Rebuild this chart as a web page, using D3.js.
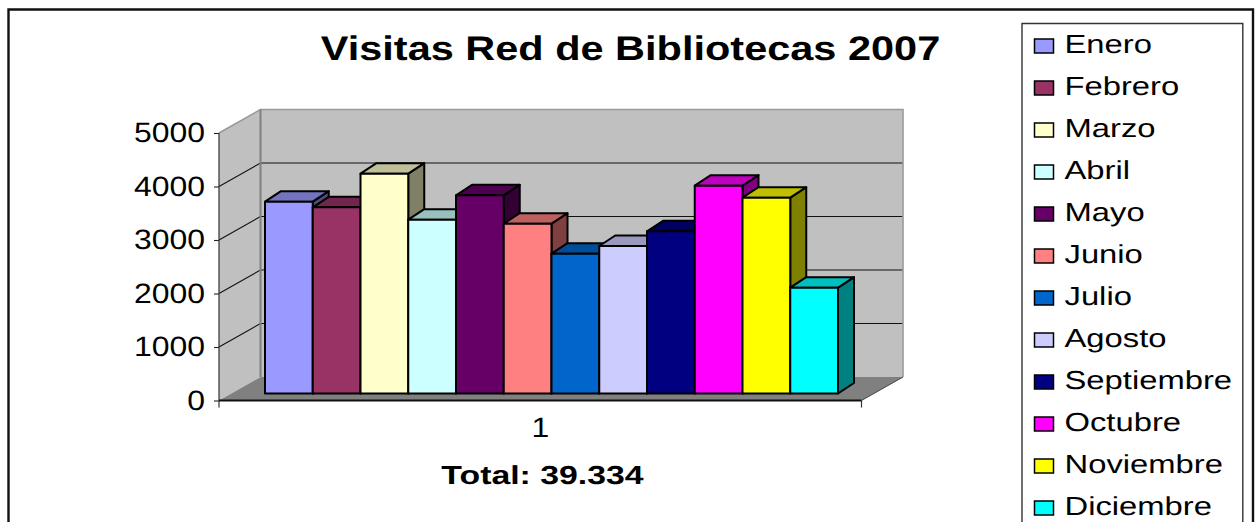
<!DOCTYPE html>
<html><head><meta charset="utf-8">
<script src="https://cdn.jsdelivr.net/npm/d3@7"></script>
<style>html,body{margin:0;padding:0;background:#fff;overflow:hidden}svg{display:block}text{font-family:"Liberation Sans",Arial,sans-serif;fill:#000;text-rendering:geometricPrecision}</style>
</head><body><svg id="c" width="1259" height="522"></svg>
<script>
const months = ["Enero","Febrero","Marzo","Abril","Mayo","Junio","Julio","Agosto","Septiembre","Octubre","Noviembre","Diciembre"];
const visits = [3585,3480,4109,3249,3704,3174,2614,2757,3031,3885,3660,1978];
const colors = ["#9999ff","#993366","#ffffcc","#ccffff","#660066","#ff8080","#0066cc","#ccccff","#000080","#ff00ff","#ffff00","#00ffff"];
const yTicks = [0,1000,2000,3000,4000,5000];
const categoryLabels = ["1"];
const titleText = "Visitas Red de Bibliotecas 2007";
const totalText = "Total: 39.334";

const svg = d3.select("#c");
const wallD = {x:41.5, y:-23.5};
const barD = {x:16, y:-10.5};
const yFront = d3.scaleLinear().domain([0,5000]).range([400.5,133]);
const yBar = d3.scaleLinear().domain([0,5000]).range([393.5,126]);
const xFloor = d3.scaleBand().domain(categoryLabels).range([219,861.5]);
const xBar = d3.scaleBand().domain(months).range([265,838]);
const pts = a => a.map(p=>p.join(",")).join(" ");
const shade = (c,k)=>{const r=d3.rgb(c);return d3.rgb(r.r*k,r.g*k,r.b*k).formatHex();};
const stretch = (sel,k)=>sel.each(function(){
  const w=this.getComputedTextLength();
  d3.select(this).attr("textLength",w*k).attr("lengthAdjust","spacingAndGlyphs");
});

// Frame
const [fx0,fx1]=[8.5,1253];
svg.append("path").attr("d",`M${fx0},530V9.5H${fx1}V530`).attr("fill","none").attr("stroke","#111").attr("stroke-width",2.4);

// Walls and floor
const L=xFloor.range()[0], R=xFloor.range()[1];
const y0=yFront(0), yT=yFront(5000);
svg.append("polygon").attr("points",pts([[L,yT],[L+wallD.x,yT+wallD.y],[L+wallD.x,y0+wallD.y],[L,y0]])).attr("fill","#c0c0c0");
svg.append("polygon").attr("points",pts([[L+wallD.x,yT+wallD.y],[R+wallD.x,yT+wallD.y],[R+wallD.x,y0+wallD.y],[L+wallD.x,y0+wallD.y]])).attr("fill","#c0c0c0");
svg.append("polygon").attr("points",pts([[L,y0],[L+wallD.x,y0+wallD.y],[R+wallD.x,y0+wallD.y],[R,y0]])).attr("fill","#808080");
// gridlines
yTicks.slice(1,-1).forEach(v=>{
  const y=yFront(v);
  svg.append("path").attr("d",`M${L},${y}L${L+wallD.x},${y+wallD.y}H${R+wallD.x}`).attr("fill","none").attr("stroke","#111").attr("stroke-width",1.1);
});
// wall edges
svg.append("path").attr("d",`M${L},${yT}L${L+wallD.x},${yT+wallD.y}H${R+wallD.x}V${y0+wallD.y}`).attr("fill","none").attr("stroke","#999").attr("stroke-width",1.6);
svg.append("path").attr("d",`M${L+wallD.x},${yT+wallD.y}V${y0+wallD.y}`).attr("stroke","#808080").attr("stroke-width",2);
svg.append("path").attr("d",`M${R},${y0}L${R+wallD.x},${y0+wallD.y}`).attr("stroke","#444").attr("stroke-width",1);

// Bars, painted left to right
const bars=svg.append("g").selectAll("g").data(months).join("g");
const edge={stroke:"#000","stroke-width":2,"stroke-linejoin":"round"};
const styled=(s)=>{Object.entries(edge).forEach(([k,v])=>s.attr(k,v));return s;};
bars.each(function(m,i){
  const g=d3.select(this), x=xBar(m), w=xBar.bandwidth(), t=yBar(visits[i]), b=yBar(0);
  styled(g.append("polygon")).attr("points",pts([[x+w,t],[x+w+barD.x,t+barD.y],[x+w+barD.x,b+barD.y],[x+w,b]])).attr("fill",shade(colors[i],.5));
  styled(g.append("polygon")).attr("points",pts([[x,t],[x+barD.x,t+barD.y],[x+w+barD.x,t+barD.y],[x+w,t]])).attr("fill",shade(colors[i],.75));
  styled(g.append("rect")).attr("x",x).attr("y",t).attr("width",w).attr("height",b-t).attr("fill",colors[i]);
});

// Axes
const yAxis=svg.append("g").attr("transform",`translate(${L},0)`)
  .call(d3.axisLeft(yFront).tickValues(yTicks).tickFormat(d3.format("d")).tickSize(5).tickPadding(9));
yAxis.select(".domain").remove();
yAxis.selectAll("line").attr("stroke","#222").attr("stroke-width",1.1);
yAxis.selectAll("text").attr("font-size",28).attr("font-family",null).call(stretch,1.14);
svg.append("path").attr("d",`M${L},${yT}V${y0+7}`).attr("stroke","#333").attr("stroke-width",1.2);
svg.append("path").attr("d",`M${L},${y0}H${R}`).attr("stroke","#111").attr("stroke-width",1.8);
svg.append("path").attr("d",`M${R},${y0}v7`).attr("stroke","#333").attr("stroke-width",1.2);
const xAxis=svg.append("g").attr("transform",`translate(0,${y0})`)
  .call(d3.axisBottom(xFloor).tickSize(0).tickPadding(17));
xAxis.select(".domain").remove();
xAxis.selectAll("text").attr("font-size",28).attr("font-family",null).call(stretch,1.14);

// Title and total
svg.append("text").attr("x",630.5).attr("y",59.5).attr("text-anchor","middle").attr("font-size",34).attr("font-weight","bold").text(titleText).call(stretch,1.22);
svg.append("text").attr("x",542.5).attr("y",483.5).attr("text-anchor","middle").attr("font-size",26).attr("font-weight","bold").text(totalText).call(stretch,1.3);

// Legend
svg.append("path").attr("d","M1022,530V23.5H1242.8V530").attr("fill","none").attr("stroke","#333").attr("stroke-width",1.4);
const leg=svg.append("g").selectAll("g").data(months).join("g").attr("transform",(d,i)=>`translate(0,${46+i*42})`);
leg.append("rect").attr("x",1034.5).attr("y",-7).attr("width",19).attr("height",14).attr("fill",(d,i)=>colors[i]).attr("stroke","#000").attr("stroke-width",1.5);
leg.append("text").attr("x",1064.5).attr("y",7).attr("font-size",26).text(d=>d).call(stretch,1.26);
</script></body></html>
